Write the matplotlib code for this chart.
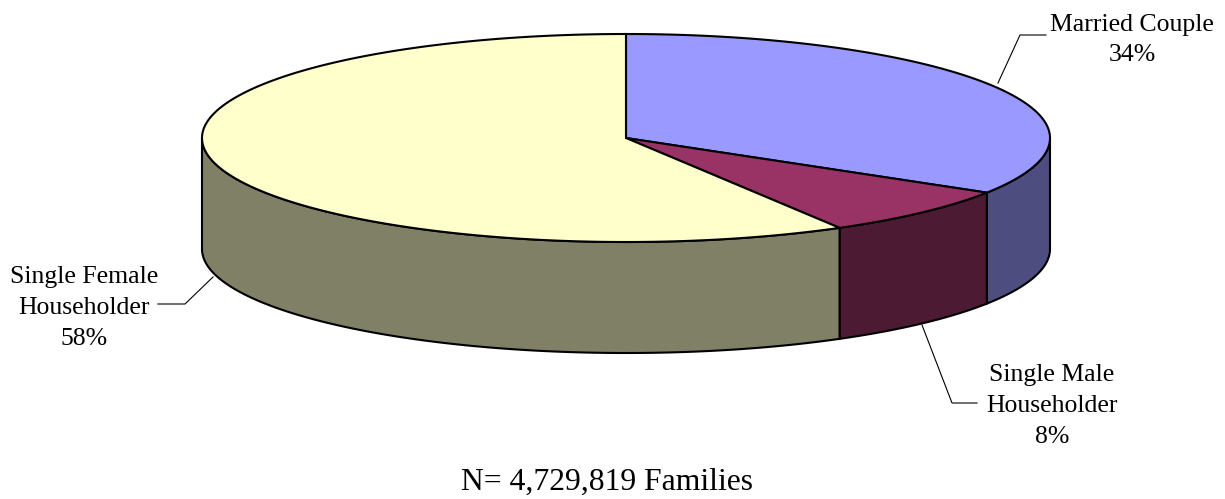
import numpy as np
import matplotlib.pyplot as plt
from matplotlib.patches import Polygon

# familias por tipo de hogar
categorias = ['Married Couple', 'Single Male\nHouseholder', 'Single Female\nHouseholder']
porcentajes = [33.8, 7.8, 58.4]
colores = ['#9999FF', '#993366', '#FFFFCC']
colores_lado = ['#4D4D80', '#4D1A33', '#808066']
nota = 'N= 4,729,819 Families'

cx, cy = 626, 138
rx, ry = 424, 104
alto = 111


def borde(a, b):
    t = np.radians(np.linspace(a, b, 200))
    return cx + rx * np.cos(t), cy - ry * np.sin(t)


plt.rcParams['font.family'] = ['Liberation Serif', 'DejaVu Serif']
fig = plt.figure(figsize=(12.25, 4.99), dpi=100)
ax = fig.add_axes([0, 0, 1, 1])
ax.set_xlim(0, 1225)
ax.set_ylim(499, 0)
ax.axis('off')

acum = np.cumsum([0] + porcentajes)
angulos = 90 - acum * 3.6

# paredes del cilindro
for i in range(3):
    a = min(angulos[i], 0)
    b = max(angulos[i + 1], -180)
    if a <= b:
        continue
    x, y = borde(a, b)
    pts = np.column_stack([np.r_[x, x[::-1]], np.r_[y, y[::-1] + alto]])
    ax.add_patch(Polygon(pts, fc=colores_lado[i], ec='black', lw=1.5, zorder=1))

# cara superior
for i in range(3):
    x, y = borde(angulos[i], angulos[i + 1])
    pts = np.column_stack([np.r_[cx, x], np.r_[cy, y]])
    ax.add_patch(Polygon(pts, fc=colores[i], ec='black', lw=1.5, zorder=2))

# lineas guia
ax.plot([998, 1020, 1046], [83, 35, 35], color='black', lw=0.8)
ax.plot([922, 952, 977], [325, 403, 403], color='black', lw=0.8)
ax.plot([158, 185, 213], [304, 304, 277], color='black', lw=0.8)

etiquetas = [f'{c}\n{round(p)}%' for c, p in zip(categorias, porcentajes)]
pos = [(1132, 40), (1052, 406), (84, 308)]
for (px, py), e in zip(pos, etiquetas):
    ax.text(px, py, e, ha='center', va='center', fontsize=18.5, linespacing=1.52)

ax.text(607, 482, nota, ha='center', va='center', fontsize=22.8)

fig.savefig('out.png', dpi=100)
